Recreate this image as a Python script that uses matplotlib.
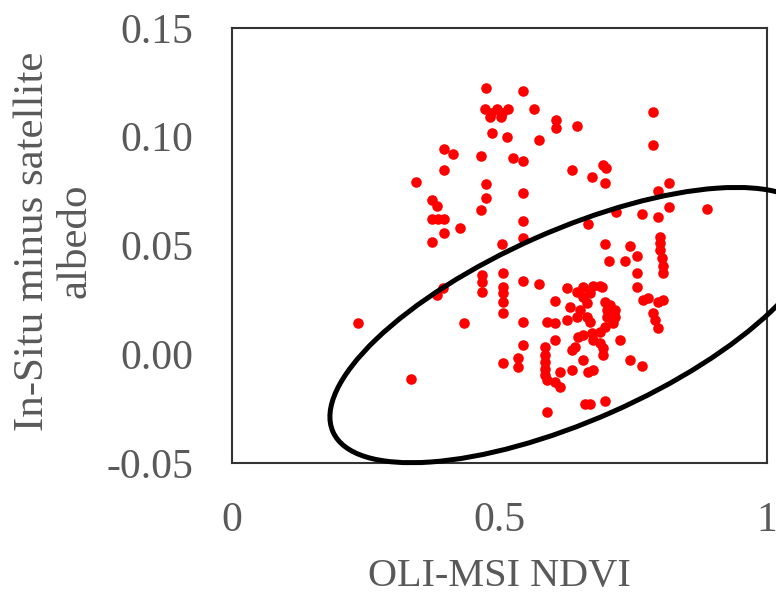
import numpy as np
import matplotlib
matplotlib.use("Agg")
import matplotlib.pyplot as plt
from matplotlib.patches import Ellipse
from matplotlib.transforms import ScaledTranslation

# OLI-MSI NDVI vs (in-situ - satellite) albedo
ndvi = [0.396, 0.413, 0.396, 0.344, 0.374, 0.383, 0.374, 0.385, 0.396, 0.426, 0.396, 0.374,
        0.475, 0.544, 0.473, 0.484, 0.495, 0.505, 0.516, 0.482, 0.503, 0.564, 0.606, 0.606,
        0.645, 0.486, 0.514, 0.574, 0.465, 0.525, 0.544, 0.693, 0.699, 0.636, 0.673, 0.475,
        0.475, 0.544, 0.465, 0.544, 0.665, 0.505, 0.544,
        0.787, 0.787, 0.697, 0.817, 0.796, 0.817, 0.888, 0.718, 0.766, 0.796, 0.697, 0.744,
        0.800, 0.800, 0.800,
        0.705, 0.735, 0.757, 0.804, 0.806, 0.806, 0.757, 0.757, 0.768, 0.778, 0.796, 0.806,
        0.787, 0.791, 0.796, 0.692,
        0.697, 0.707, 0.716, 0.716, 0.712, 0.701, 0.701, 0.697, 0.688, 0.673, 0.656, 0.647,
        0.675, 0.688, 0.693, 0.693, 0.725, 0.744, 0.766, 0.697,
        0.507, 0.507, 0.507, 0.507, 0.507, 0.467, 0.467, 0.467, 0.544, 0.574, 0.604, 0.626,
        0.645, 0.656, 0.669, 0.688, 0.632, 0.650, 0.664, 0.656, 0.626, 0.645, 0.664, 0.669,
        0.589, 0.604, 0.544, 0.604, 0.585, 0.585, 0.585, 0.585, 0.585, 0.589, 0.544, 0.535,
        0.535, 0.507, 0.613, 0.613, 0.604, 0.636, 0.641, 0.636, 0.656, 0.665, 0.675, 0.660,
        0.669, 0.589, 0.675,
        0.236, 0.335, 0.383, 0.394, 0.434]
diff = [0.0944, 0.0921, 0.0847, 0.0792, 0.0709, 0.0682, 0.0622, 0.0622, 0.0622, 0.0580, 0.0557, 0.0516,
        0.1224, 0.1210, 0.1128, 0.1109, 0.1128, 0.1109, 0.1128, 0.1091, 0.1091, 0.1128, 0.1077, 0.1040,
        0.1049, 0.1017, 0.0999, 0.0985, 0.0911, 0.0902, 0.0889, 0.0870, 0.0856, 0.0847, 0.0815, 0.0783,
        0.0718, 0.0741, 0.0663, 0.0613, 0.0599, 0.0507, 0.0534,
        0.1114, 0.0962, 0.0787, 0.0787, 0.0751, 0.0677, 0.0668, 0.0654, 0.0645, 0.0631, 0.0507, 0.0498,
        0.0539, 0.0511, 0.0479,
        0.0429, 0.0429, 0.0452, 0.0443, 0.0406, 0.0374, 0.0374, 0.0309, 0.0249, 0.0259, 0.0240, 0.0249,
        0.0190, 0.0157, 0.0121, 0.0309,
        0.0240, 0.0226, 0.0203, 0.0171, 0.0144, 0.0203, 0.0171, 0.0125, 0.0102, 0.0098, 0.0089, 0.0079,
        0.0066, 0.0052, 0.0029, -0.0003, 0.0066, -0.0026, -0.0054, -0.0215,
        0.0374, 0.0309, 0.0282, 0.0240, 0.0190, 0.0364, 0.0332, 0.0286, 0.0337, 0.0323, 0.0245, 0.0305,
        0.0286, 0.0309, 0.0282, 0.0314, 0.0217, 0.0203, 0.0236, 0.0263, 0.0157, 0.0171, 0.0171, 0.0148,
        0.0148, 0.0144, 0.0148, 0.0066, 0.0033, -0.0003, -0.0036, -0.0068, -0.0095, -0.0118, 0.0043, -0.0017,
        -0.0059, -0.0040, -0.0082, -0.0151, -0.0128, 0.0020, 0.0033, -0.0072, -0.0026, -0.0082, -0.0072, -0.0229,
        -0.0229, -0.0266, 0.0314,
        0.0144, -0.0114, 0.0272, 0.0305, 0.0144]

xticks = [0, 0.5, 1]
xticklabels = ["0", "0.5", "1"]
yticks = [-0.05, 0.0, 0.05, 0.10, 0.15]
yticklabels = ["-0.05", "0.00", "0.05", "0.10", "0.15"]

# highlighted region (centre in data units, size in inches)
ell_center = (0.639, 0.0134)
ell_w, ell_h, ell_angle = 5.27, 1.90, 23.9

grey = "#595959"
plt.rcParams["font.family"] = ["Liberation Serif", "DejaVu Serif"]

fig = plt.figure(figsize=(7.76, 5.96), dpi=100)
ax = fig.add_axes([0.299, 0.2232, 0.6894, 0.7299])

ax.scatter(ndvi, diff, s=58, color="#ff0000", linewidths=0, zorder=3)

ax.set_xlim(0, 1)
ax.set_ylim(-0.05, 0.15)
ax.set_xticks(xticks)
ax.set_xticklabels(xticklabels)
ax.set_yticks(yticks)
ax.set_yticklabels(yticklabels)
ax.tick_params(length=0, labelsize=30, labelcolor=grey, pad=28)

for sp in ax.spines.values():
    sp.set_linewidth(1.5)
    sp.set_color("#333333")

ax.set_xlabel("OLI-MSI NDVI", fontsize=29, color=grey, va="center")
ax.xaxis.set_label_coords(0.5, -0.262)
ax.set_ylabel("In-Situ minus satellite\nalbedo", fontsize=31, color=grey,
              va="center", linespacing=1.12)
ax.yaxis.set_label_coords(-0.333, 0.51)

trans = fig.dpi_scale_trans + ScaledTranslation(ell_center[0], ell_center[1], ax.transData)
ell = Ellipse((0, 0), ell_w, ell_h, angle=ell_angle, transform=trans,
              fill=False, edgecolor="black", linewidth=3.6, clip_on=False, zorder=4)
fig.add_artist(ell)

fig.savefig("out.png", dpi=100)
